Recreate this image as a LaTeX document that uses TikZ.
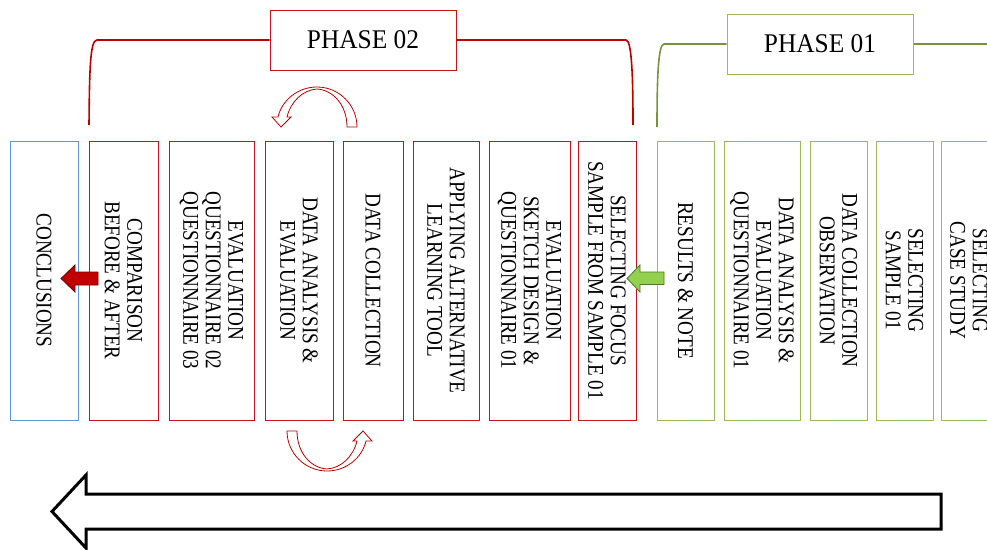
\documentclass[tikz,border=0pt]{standalone}
\usepackage{fontspec}
\setmainfont{Liberation Serif}
\newfontfamily\boxfont[FakeStretch=0.85]{Liberation Serif}
\newfontfamily\phasefont[FakeStretch=0.94]{Liberation Serif}
\definecolor{redline}{RGB}{200,20,20}
\definecolor{darkred}{RGB}{192,0,0}
\definecolor{greenbox}{RGB}{155,187,89}
\definecolor{greenline}{RGB}{119,147,60}
\definecolor{bluebox}{RGB}{91,155,213}
\definecolor{greenfill}{RGB}{146,208,80}
\definecolor{greenedge}{RGB}{80,120,40}
\tikzset{
  colbox/.style={draw, line width=1pt, fill=white, rotate=-90, minimum width=279pt, inner sep=0pt, align=center, font=\boxfont\fontsize{22.5}{22.5}\selectfont},
  redbox/.style={colbox, draw=redline},
  greenbx/.style={colbox, draw=greenbox},
  bluebx/.style={colbox, draw=bluebox},
  phasebox/.style={draw, line width=1pt, fill=white, minimum width=186pt, minimum height=60pt, font=\phasefont\fontsize{27}{30}\selectfont},
  bracket/.style={line width=1.6pt},
  curvearrow/.style={draw=darkred, line width=0.8pt, fill=white},
}
\begin{document}
\begin{tikzpicture}[x=1pt,y=-1pt]
\useasboundingbox (0,0) rectangle (987,549);
\clip (0,0) rectangle (987,549);
% brackets
\node[phasebox, draw=redline] (ph2) at (363,40) {PHASE 02};
\node[phasebox, draw=greenbox] (ph1) at (820,44) {PHASE 01};
\coordinate (rb1) at (89,125);
\coordinate (rb2) at (633,125);
\coordinate (gb1) at (657,127);
\coordinate (gb2) at (990,44);
\draw[bracket, darkred] (rb1) .. controls (89.5,70) and (90,40) .. (97,40) -- (ph2.west);
\draw[bracket, darkred] (ph2.east) -- (626,40) .. controls (632,40) and (633,80) .. (rb2);
\draw[bracket, greenline] (gb1) .. controls (657,80) and (658,44) .. (664,44) -- (ph1.west);
\draw[bracket, greenline] (ph1.east) -- (gb2);
% boxes
\node[bluebx, minimum height=68pt] (conc) at (44,280.5) {CONCLUSIONS};
\node[redbox, minimum height=69pt] (comp) at (123.5,280.5) {COMPARISON\\BEFORE \& AFTER};
\node[redbox, minimum height=85pt] (evq) at (211.5,280.5) {EVALUATION\\QUESTIONNAIRE 02\\QUESTIONNAIRE 03};
\node[redbox, minimum height=68pt] (dae) at (299,280.5) {DATA ANALYSIS \&\\EVALUATION};
\node[redbox, minimum height=60pt] (dc) at (373,280.5) {DATA COLLECTION};
\node[redbox, minimum height=66pt] (alt) at (446,280.5) {APPLYING ALTERNATIVE\\LEARNING TOOL};
\node[redbox, minimum height=81pt] (esk) at (529.5,280.5) {EVALUATION\\SKETCH DESIGN \&\\QUESTIONNAIRE 01};
\node[redbox, minimum height=58pt] (sel) at (607,280.5) {SELECTING FOCUS\\SAMPLE FROM SAMPLE 01};
\node[greenbx, minimum height=57pt] (res) at (685.5,280.5) {RESULTS \& NOTE};
\node[greenbx, minimum height=76pt] (da1) at (762,280.5) {DATA ANALYSIS \&\\EVALUATION\\QUESTIONNAIRE 01};
\node[greenbx, minimum height=57pt] (dco) at (838.5,280.5) {DATA COLLECTION\\OBSERVATION};
\node[greenbx, minimum height=57pt] (ss1) at (904.5,280.5) {SELECTING\\SAMPLE 01};
\node[greenbx, minimum height=56pt] (scs) at (969,280.5) {SELECTING\\CASE STUDY};
% straight block arrows
\draw[fill=darkred, draw=darkred!60!black, line width=0.8pt]
  (98,272) -- (75,272) -- (75,265) -- (61,278.5) -- (75,292) -- (75,285) -- (98,285) -- cycle;
\draw[fill=greenfill, draw=greenedge, line width=0.8pt]
  (664,272) -- (640,272) -- (640,265) -- (627,278.5) -- (640,292) -- (640,284.5) -- (664,284.5) -- cycle;
% curved arrows
\draw[curvearrow] (357,127) .. controls (357,105) and (339,87) .. (317,87)
  .. controls (298,87) and (282,100) .. (278,117) -- (272,117) -- (281,127) -- (291,117) -- (287,117)
  .. controls (291,101) and (303,90) .. (317,89)
  .. controls (333,90) and (347,105) .. (347,127) -- cycle;
\begin{scope}[rotate around={180:(322,279)}]
\draw[curvearrow] (357,127) .. controls (357,105) and (339,87) .. (317,87)
  .. controls (298,87) and (282,100) .. (278,117) -- (272,117) -- (281,127) -- (291,117) -- (287,117)
  .. controls (291,101) and (303,90) .. (317,89)
  .. controls (333,90) and (347,105) .. (347,127) -- cycle;
\end{scope}
% big arrow
\draw[line width=3pt, fill=white, line join=miter]
  (941,494) -- (86,494) -- (86,475) -- (52,511.5) -- (86,548) -- (86,529) -- (941,529) -- cycle;
\end{tikzpicture}
\end{document}
